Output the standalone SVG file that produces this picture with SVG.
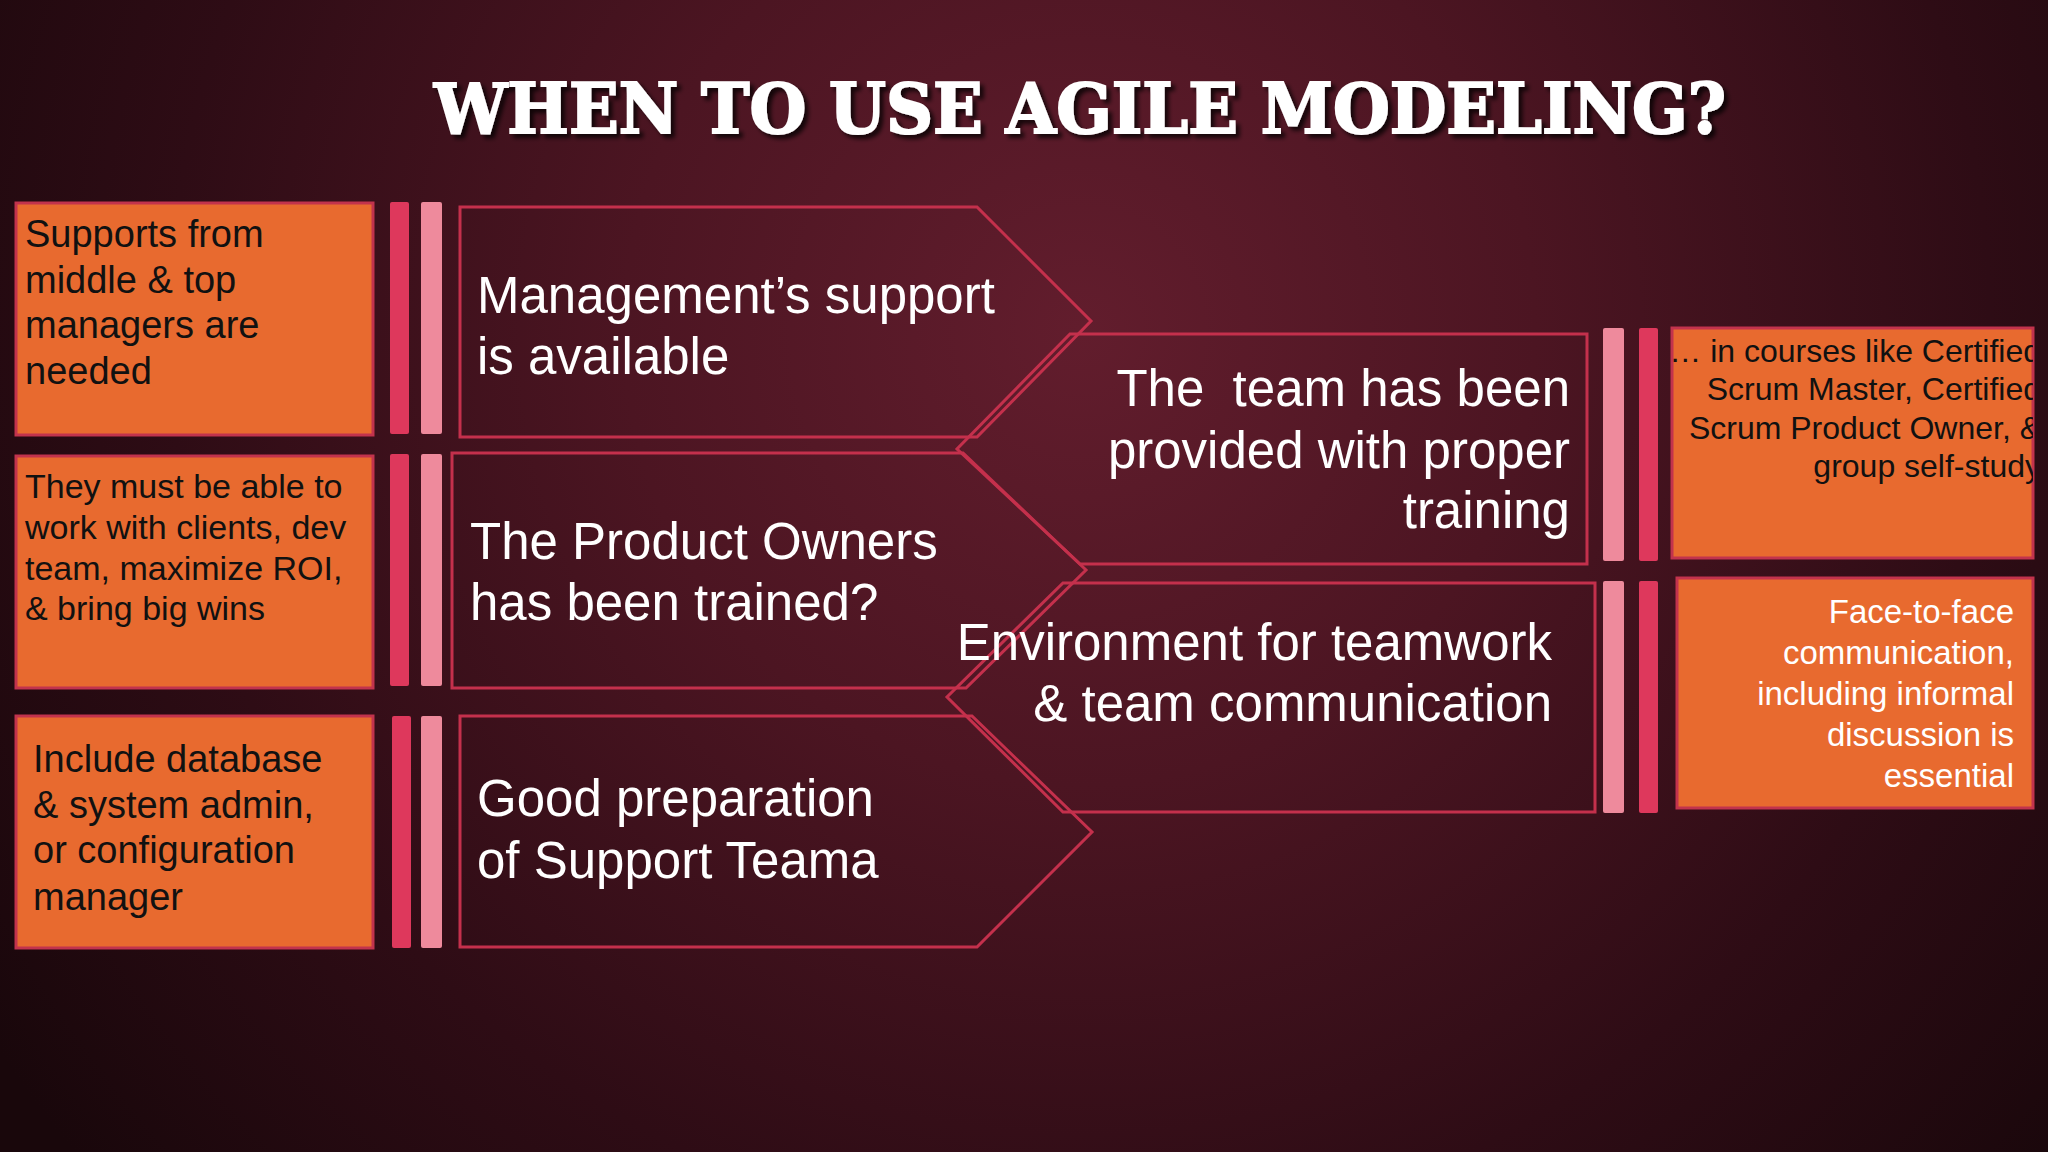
<svg xmlns="http://www.w3.org/2000/svg" width="2048" height="1152" viewBox="0 0 2048 1152">
  <defs>
    <radialGradient id="bg" gradientUnits="userSpaceOnUse" cx="1080" cy="330" r="1300" fx="1080" fy="330">
      <stop offset="0" stop-color="#621d2d"/>
      <stop offset="0.35" stop-color="#4c1522"/>
      <stop offset="0.7" stop-color="#2e0c15"/>
      <stop offset="1" stop-color="#19070b"/>
    </radialGradient>
    <filter id="shadow" x="-5%" y="-30%" width="110%" height="160%">
      <feDropShadow dx="4" dy="4" stdDeviation="2" flood-color="#000" flood-opacity="0.75"/>
    </filter>
    <clipPath id="clipA">
      <rect x="1640" y="320" width="393" height="250"/>
    </clipPath>
    <style>
      .title { font-family: "DejaVu Serif", "Liberation Serif", serif; font-weight: bold; font-size: 69px; fill: #ffffff; stroke: #ffffff; stroke-width: 2; }
      .box { fill: #e86a2f; stroke: #c2334d; stroke-width: 3; }
      .bar-dark { fill: #de385c; }
      .bar-pink { fill: #ee8a9c; }
      .chev { fill: none; stroke: #c4304c; stroke-width: 3; stroke-linejoin: miter; }
      .big { font-family: "Liberation Sans", Arial, sans-serif; font-size: 51px; fill: #ffffff; }
      .note { font-family: "Liberation Sans", Arial, sans-serif; fill: #111111; }
      .note-w { font-family: "Liberation Sans", Arial, sans-serif; fill: #ffffff; }
    </style>
  </defs>

  <rect x="0" y="0" width="2048" height="1152" fill="url(#bg)"/>

  <g id="title">
    <text class="title" x="1080" y="133" text-anchor="middle" textLength="1292" lengthAdjust="spacingAndGlyphs" filter="url(#shadow)">WHEN TO USE AGILE MODELING?</text>
  </g>

  <!-- Left notes -->
  <g id="note-managers">
    <rect class="box" x="16" y="203" width="357" height="232"/>
    <text class="note" font-size="38"><tspan x="25" y="247">Supports from</tspan><tspan x="25" y="293">middle &amp; top</tspan><tspan x="25" y="338">managers are</tspan><tspan x="25" y="384">needed</tspan></text>
  </g>
  <g id="note-product-owners">
    <rect class="box" x="16" y="456" width="357" height="232"/>
    <text class="note" font-size="34"><tspan x="25" y="498">They must be able to</tspan><tspan x="25" y="539">work with clients, dev</tspan><tspan x="25" y="580">team, maximize ROI,</tspan><tspan x="25" y="620">&amp; bring big wins</tspan></text>
  </g>
  <g id="note-support-team">
    <rect class="box" x="16" y="716" width="357" height="232"/>
    <text class="note" font-size="38"><tspan x="33" y="772">Include database</tspan><tspan x="33" y="818">&amp; system admin,</tspan><tspan x="33" y="863">or configuration</tspan><tspan x="33" y="910">manager</tspan></text>
  </g>

  <!-- Left bars -->
  <g id="bars-left">
    <rect class="bar-dark" x="390" y="202" width="19" height="232" rx="2"/>
    <rect class="bar-pink" x="421" y="202" width="21" height="232" rx="2"/>
    <rect class="bar-dark" x="390" y="454" width="19" height="232" rx="2"/>
    <rect class="bar-pink" x="421" y="454" width="21" height="232" rx="2"/>
    <rect class="bar-dark" x="392" y="716" width="19" height="232" rx="2"/>
    <rect class="bar-pink" x="421" y="716" width="21" height="232" rx="2"/>
  </g>

  <!-- Chevrons -->
  <g id="chevron-management">
    <polygon class="chev" points="460,207 977,207 1091,321 977,437 460,437"/>
    <text class="big"><tspan x="477" y="313">Management’s support</tspan><tspan x="477" y="374">is available</tspan></text>
  </g>
  <g id="chevron-product-owners">
    <polygon class="chev" points="452,453 963,453 1086,570 966,688 452,688"/>
    <text class="big"><tspan x="470" y="559">The Product Owners</tspan><tspan x="470" y="620">has been trained?</tspan></text>
  </g>
  <g id="chevron-support-team">
    <polygon class="chev" points="460,716 972,716 1092,832 977,947 460,947"/>
    <text class="big"><tspan x="477" y="816">Good preparation</tspan><tspan x="477" y="878">of Support Teama</tspan></text>
  </g>

  <!-- Right reverse chevrons -->
  <g id="shape-training">
    <polygon class="chev" points="1070,334 1587,334 1587,564 1080,564 957,449"/>
    <text class="big" text-anchor="end" xml:space="preserve"><tspan x="1570" y="406">The  team has been</tspan><tspan x="1570" y="468">provided with proper</tspan><tspan x="1570" y="528">training</tspan></text>
  </g>
  <g id="shape-environment">
    <polygon class="chev" points="1063,583 1595,583 1595,812 1063,812 947,697"/>
    <text class="big" text-anchor="end"><tspan x="1552" y="660">Environment for teamwork</tspan><tspan x="1552" y="721">&amp; team communication</tspan></text>
  </g>

  <!-- Right bars -->
  <g id="bars-right">
    <rect class="bar-pink" x="1603" y="328" width="21" height="233" rx="2"/>
    <rect class="bar-dark" x="1639" y="328" width="19" height="233" rx="2"/>
    <rect class="bar-pink" x="1603" y="581" width="21" height="232" rx="2"/>
    <rect class="bar-dark" x="1639" y="581" width="19" height="232" rx="2"/>
  </g>

  <!-- Right notes -->
  <g id="note-courses">
    <rect class="box" x="1672" y="328" width="361" height="230"/>
    <text class="note" font-size="32" text-anchor="end" clip-path="url(#clipA)"><tspan x="2041" y="362">… in courses like Certified</tspan><tspan x="2041" y="400">Scrum Master, Certified</tspan><tspan x="2041" y="439">Scrum Product Owner, &amp;</tspan><tspan x="2041" y="477">group self-study</tspan></text>
  </g>
  <g id="note-face-to-face">
    <rect class="box" x="1677" y="578" width="356" height="230"/>
    <text class="note-w" font-size="33" text-anchor="end"><tspan x="2014" y="623">Face-to-face</tspan><tspan x="2014" y="664">communication,</tspan><tspan x="2014" y="705">including informal</tspan><tspan x="2014" y="746">discussion is</tspan><tspan x="2014" y="787">essential</tspan></text>
  </g>

  <g id="connectors"/>
</svg>
